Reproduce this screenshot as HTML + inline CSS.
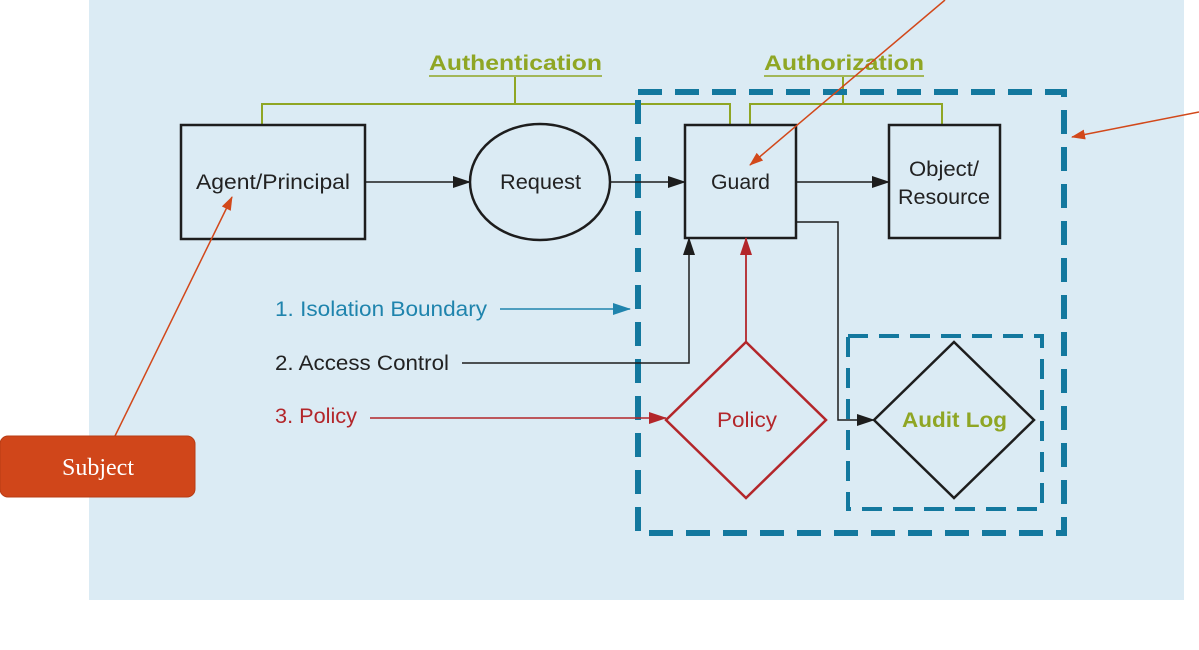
<!DOCTYPE html>
<html><head><style>
html,body{margin:0;padding:0;background:#fff;}
svg{display:block;}
text{font-family:"Liberation Sans",sans-serif;}
</style></head><body>
<svg width="1199" height="650" viewBox="0 0 1199 650" xmlns="http://www.w3.org/2000/svg">
<defs>
<marker id="ab" markerWidth="18" markerHeight="12" refX="17" refY="6" orient="auto" markerUnits="userSpaceOnUse"><path d="M0,0 L18,6 L0,12 z" fill="#1d1d1d"/></marker>
<marker id="ar" markerWidth="18" markerHeight="12" refX="17" refY="6" orient="auto" markerUnits="userSpaceOnUse"><path d="M0,0 L18,6 L0,12 z" fill="#b3262a"/></marker>
<marker id="at" markerWidth="18" markerHeight="12" refX="17" refY="6" orient="auto" markerUnits="userSpaceOnUse"><path d="M0,0 L18,6 L0,12 z" fill="#1f84ad"/></marker>
<marker id="ao" markerWidth="14" markerHeight="10" refX="13" refY="5" orient="auto" markerUnits="userSpaceOnUse"><path d="M0,0 L14,5 L0,10 z" fill="#d2481a"/></marker>
</defs>
<rect x="89" y="0" width="1095" height="600" fill="#dbebf4"/>
<g stroke="#8fa624" stroke-width="2" fill="none">
<path d="M515,77 V104 M262,125 V104 H730 V125"/>
<path d="M843,77 V104 M750,125 V104 H942 V125"/>
<path d="M429,76 H602 M764,76 H924" stroke-width="1.5"/>
</g>
<text x="429" y="70" textLength="173" lengthAdjust="spacingAndGlyphs" font-size="21" font-weight="bold" fill="#8fa624">Authentication</text>
<text x="764" y="70" textLength="160" lengthAdjust="spacingAndGlyphs" font-size="21" font-weight="bold" fill="#8fa624">Authorization</text>
<rect x="638" y="92" width="426" height="441" fill="none" stroke="#13789e" stroke-width="6" stroke-dasharray="24,13"/>
<rect x="848" y="336" width="194" height="173" fill="none" stroke="#13789e" stroke-width="4" stroke-dasharray="20,11"/>
<g stroke="#1d1d1d" stroke-width="2.5" fill="none">
<rect x="181" y="125" width="184" height="114"/>
<ellipse cx="540" cy="182" rx="70" ry="58"/>
<rect x="685" y="125" width="111" height="113"/>
<rect x="889" y="125" width="111" height="113"/>
<polygon points="954,342 1034,420 954,498 874,420"/>
</g>
<polygon points="746,342 826,420 746,498 666,420" fill="none" stroke="#b3262a" stroke-width="2.5"/>
<g font-size="21" fill="#222">
<text x="196" y="189" textLength="154" lengthAdjust="spacingAndGlyphs">Agent/Principal</text>
<text x="500" y="189" textLength="81" lengthAdjust="spacingAndGlyphs">Request</text>
<text x="711" y="189" textLength="59" lengthAdjust="spacingAndGlyphs">Guard</text>
<text x="909" y="176" textLength="70" lengthAdjust="spacingAndGlyphs">Object/</text>
<text x="898" y="204" textLength="92" lengthAdjust="spacingAndGlyphs">Resource</text>
</g>
<text x="717" y="427" textLength="60" lengthAdjust="spacingAndGlyphs" font-size="21" fill="#b3262a">Policy</text>
<text x="902" y="427" textLength="105" lengthAdjust="spacingAndGlyphs" font-size="21" font-weight="bold" fill="#8fa624">Audit Log</text>
<g stroke="#1d1d1d" stroke-width="1.5" fill="none">
<line x1="365" y1="182" x2="470" y2="182" marker-end="url(#ab)"/>
<line x1="610" y1="182" x2="685" y2="182" marker-end="url(#ab)"/>
<line x1="796" y1="182" x2="889" y2="182" marker-end="url(#ab)"/>
<path d="M796,222 H838 V420 H874" marker-end="url(#ab)"/>
<path d="M462,363 H689 V238" marker-end="url(#ab)"/>
</g>
<line x1="746" y1="342" x2="746" y2="238" stroke="#b3262a" stroke-width="1.8" marker-end="url(#ar)"/>
<line x1="370" y1="418" x2="666" y2="418" stroke="#b3262a" stroke-width="1.5" marker-end="url(#ar)"/>
<line x1="500" y1="309" x2="630" y2="309" stroke="#1f84ad" stroke-width="1.5" marker-end="url(#at)"/>
<text x="275" y="316" textLength="212" lengthAdjust="spacingAndGlyphs" font-size="21" fill="#1f84ad">1. Isolation Boundary</text>
<text x="275" y="370" textLength="174" lengthAdjust="spacingAndGlyphs" font-size="21" fill="#222">2. Access Control</text>
<text x="275" y="423" textLength="82" lengthAdjust="spacingAndGlyphs" font-size="21" fill="#b3262a">3. Policy</text>
<g stroke="#d2481a" stroke-width="1.5" fill="none">
<line x1="115" y1="436" x2="232" y2="197" marker-end="url(#ao)"/>
<line x1="945" y1="0" x2="750" y2="165" marker-end="url(#ao)"/>
<line x1="1199" y1="112" x2="1072" y2="137" marker-end="url(#ao)"/>
</g>
<rect x="0" y="436" width="195" height="61" rx="8" fill="#d0461a" stroke="#b83c14" stroke-width="1"/>
<text x="98" y="475" text-anchor="middle" font-size="24" fill="#fff" style="font-family:'Liberation Serif',serif">Subject</text>
</svg>
</body></html>
